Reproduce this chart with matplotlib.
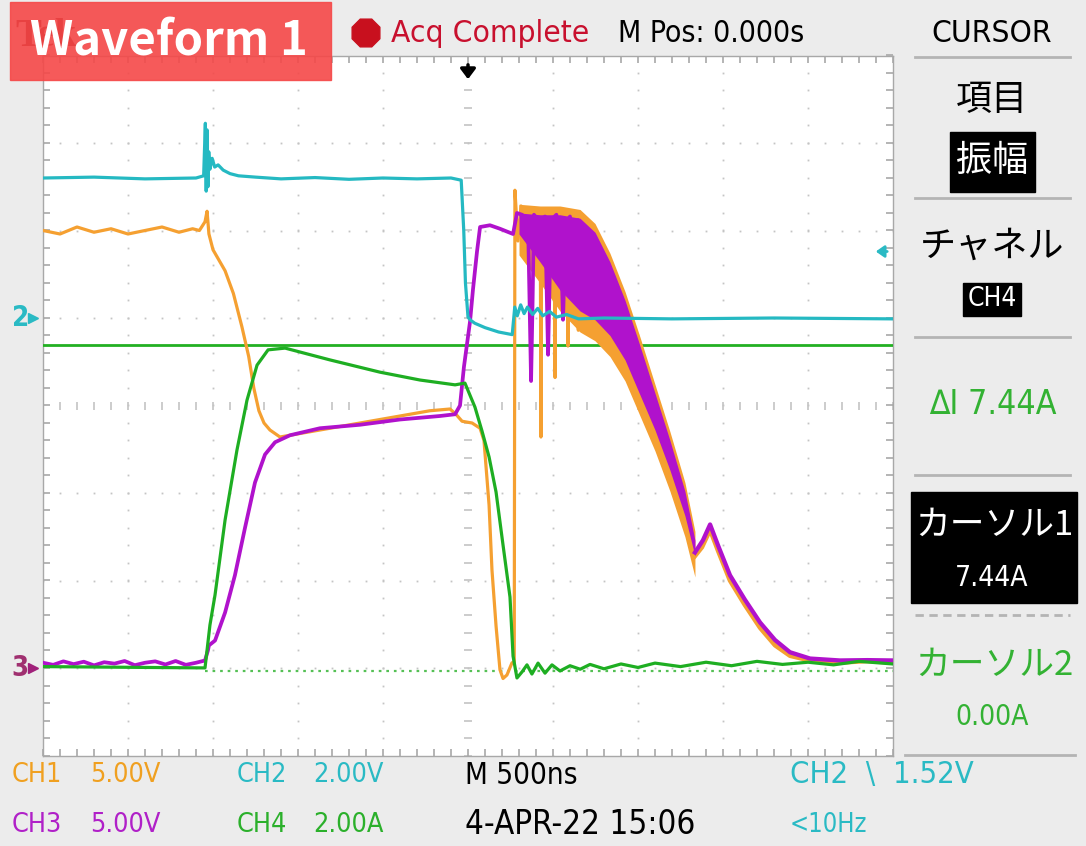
import matplotlib
matplotlib.use("Agg")
import matplotlib.pyplot as plt
from matplotlib import font_manager
from matplotlib.patches import Rectangle, RegularPolygon
import numpy as np

# ---------------- data ----------------
# time in ns (500 ns/div, 10 div), values in channel units
ch2_t = [-2500, -2200, -1900, -1600, -1555, -1545, -1540, -1535, -1530, -1525, -1518, -1505,
         -1490, -1470, -1440, -1400, -1350, -1250, -1100, -900, -700, -500, -300, -100, -40,
         -25, -15, 0, 15, 40, 100, 180, 260, 275, 290, 310, 330, 350, 380, 410, 440, 480, 520,
         580, 650, 800, 1200, 1800, 2500]
ch2_v = [3.20, 3.22, 3.18, 3.20, 3.25, 4.45, 2.90, 4.30, 3.00, 3.80, 3.40, 3.65,
         3.45, 3.50, 3.38, 3.30, 3.25, 3.22, 3.18, 3.21, 3.17, 3.20, 3.18, 3.20, 3.15,
         2.00, 0.80, 0.02, -0.05, -0.12, -0.22, -0.32, -0.38, 0.25, 0.05, 0.30, 0.10, 0.25, 0.08,
         0.22, 0.05, 0.15, 0.02, 0.08, -0.02, 0.0, -0.02, 0.0, -0.02]

ch1_t = [-2500, -2400, -2300, -2200, -2100, -2000, -1900, -1800, -1700, -1620, -1580,
         -1547, -1535, -1524, -1500, -1429, -1380, -1330, -1290, -1260, -1230, -1200, -1165, -1106,
         -1047, -871, -635, -400, -224, -106, -71, -35, 24, 71, 94, 124, 141, 165, 188, 206,
         229, 259, 272, 276, 294, 312, 330, 360, 400, 425, 429, 433, 470, 508, 512, 516, 560,
         584, 588, 592, 630, 645, 649, 653, 700, 715, 719, 724]
ch1_v = [25.0, 24.8, 25.2, 24.9, 25.1, 24.8, 25.0, 25.2, 24.9, 25.1, 25.0,
         25.5, 26.1, 24.8, 23.9, 22.7, 21.4, 19.5, 17.8, 16.0, 14.7, 14.0, 13.6, 13.2,
         13.3, 13.6, 14.0, 14.4, 14.7, 14.8, 14.5, 14.1, 14.0, 13.7, 13.0, 9.3, 5.6, 2.4, -0.1, -0.6,
         -0.4, 0.3, 0.3, 27.3, 24.4, 26.4, 25.4, 26.2, 25.5, 26.0, 13.2, 25.8, 25.5, 26.0, 16.6, 25.7, 25.8,
         25.6, 18.4, 25.5, 25.9, 25.7, 19.3, 25.3, 25.2, 25.0, 19.8, 24.8]
ch1_tail_t = [1335, 1376, 1424, 1471, 1541, 1629, 1718, 1806, 1894, 2012, 2188, 2350, 2500]
ch1_tail_v = [6.4, 6.9, 7.9, 6.7, 5.0, 3.6, 2.3, 1.3, 0.7, 0.43, 0.31, 0.4, 0.31]

ch3_t = [-2500, -2440, -2380, -2320, -2260, -2200, -2140, -2080, -2020, -1960, -1900, -1840,
         -1780, -1720, -1660, -1600, -1547, -1530, -1524, -1488, -1429, -1371, -1312, -1253,
         -1194, -1135, -1047, -871, -635, -400, -165, -76, -47, -24, 12, 29, 53, 71, 129, 188,
         265, 288, 318, 353, 362, 371, 380, 388, 420, 453, 462, 471, 480, 488, 520, 550, 559,
         568, 576, 600, 620, 629, 638, 647, 676, 690, 694, 700]
ch3_v = [0.30, 0.18, 0.38, 0.22, 0.36, 0.15, 0.33, 0.25, 0.40, 0.16, 0.30, 0.38,
         0.20, 0.40, 0.18, 0.30, 0.43, 1.0, 1.29, 1.57, 3.17, 5.3, 8.0, 10.6,
         12.2, 12.9, 13.3, 13.7, 13.9, 14.2, 14.4, 14.5, 15.0, 17.2, 19.8, 21.6, 23.8, 25.2, 25.3, 25.1,
         24.8, 26.0, 25.9, 25.6, 21.0, 16.4, 21.0, 25.9, 25.5, 25.8, 22.0, 17.9, 22.0, 25.6, 25.9, 23.0, 19.9,
         23.0, 25.5, 25.8, 23.5, 21.0, 23.5, 25.6, 25.2, 23.0, 21.5, 25.0]
ch3_tail_t = [1335, 1382, 1424, 1471, 1541, 1629, 1718, 1806, 1894, 2012, 2188, 2350, 2500]
ch3_tail_v = [6.6, 7.3, 8.2, 7.0, 5.3, 3.9, 2.6, 1.6, 0.9, 0.54, 0.43, 0.45, 0.43]

# envelope of the dense ringing band of CH3 (and CH1 around it)
band_t = [300, 424, 541, 659, 747, 835, 924, 1012, 1100, 1188, 1276, 1335]
band_hi = [26.0, 25.9, 25.9, 25.7, 24.9, 23.2, 21.0, 18.4, 15.7, 13.0, 10.1, 7.3]
band_lo = [24.8, 23.2, 21.6, 20.4, 19.9, 19.0, 17.6, 15.6, 13.6, 11.3, 8.7, 6.4]

ch4_t = [-2500, -1547, -1518, -1488, -1429, -1359, -1300, -1241, -1176, -1076, -988, -812,
         -518, -282, -76, -18, 41, 82, 124, 165, 206, 247, 265, 288, 318, 347, 376, 412, 453,
         494, 541, 600, 660, 718, 800, 900, 1000, 1100, 1250, 1400, 1550, 1700, 1850, 2000,
         2150, 2300, 2500]
ch4_v = [0.10, 0.07, 1.05, 1.74, 3.45, 5.05, 6.19, 6.99, 7.34, 7.38, 7.29, 7.11,
         6.83, 6.65, 6.54, 6.58, 6.03, 5.49, 4.89, 4.09, 2.88, 1.69, 0.34, -0.16, -0.02, 0.14,
         -0.07, 0.18, -0.05, 0.14, 0.0, 0.12, 0.04, 0.15, 0.05, 0.16, 0.08, 0.18, 0.10, 0.20,
         0.12, 0.22, 0.15, 0.20, 0.14, 0.22, 0.16]

cursor1_A = 7.44
cursor2_A = 0.00
trigger_level_V = 1.52

# channel settings: (units/div, ground position in divisions)
scale = {"CH1": 5.0, "CH2": 2.0, "CH3": 5.0, "CH4": 2.0}
ground = {"CH1": -3.0, "CH2": 1.0, "CH3": -3.0, "CH4": -3.034}

col = {"CH1": "#f5a031", "CH2": "#25b9c2", "CH3": "#b012cc", "CH4": "#1eae22"}
txtcol = {"CH1": "#f0a020", "CH2": "#2abac4", "CH3": "#b020c8", "CH4": "#2bb02b"}


def div(ch, v):
    return np.asarray(v, dtype=float) / scale[ch] + ground[ch]


# ---------------- fonts ----------------
NARROW, STRETCH, fs = "Liberation Sans", "normal", 0.85
for f in font_manager.fontManager.ttflist:
    nm = f.name
    if ("Mono" in nm) or ("Serif" in nm) or f.weight not in (400, "normal", "regular"):
        continue
    if ("Narrow" in nm) or ("Condensed" in nm) or (f.stretch in ("condensed", "semi-condensed")):
        NARROW, STRETCH, fs = nm, f.stretch, 0.9
        break
SCOPE = [NARROW, "Noto Sans CJK JP", "DejaVu Sans"]
JP = ["Noto Sans CJK JP", "DejaVu Sans"]

W, H = 1086, 846
fig = plt.figure(figsize=(W / 100, H / 100), dpi=100)
fig.patch.set_facecolor("#ececec")

# ---------------- scope screen ----------------
L, T, R, B = 43, 55.5, 893, 755.5
ax = fig.add_axes([L / W, 1 - B / H, (R - L) / W, (B - T) / H])
ax.set_facecolor("white")
ax.set_xlim(-2500, 2500)
ax.set_ylim(-4, 4)
ax.set_xticks([])
ax.set_yticks([])
for s in ax.spines.values():
    s.set_color("#a8a8a8")
    s.set_linewidth(1.0)

gc = "#c4c4c4"
ys = np.arange(-4, 4.001, 0.2)
xs = np.arange(-2500, 2500.1, 100)
for xv in [-2000, -1500, -1000, -500, 500, 1000, 1500, 2000]:
    ax.plot(np.full_like(ys, xv), ys, ls="none", marker="s", ms=1.3, color=gc, mew=0)
for yv in [-3, -2, -1, 1, 2, 3]:
    ax.plot(xs, np.full_like(xs, yv), ls="none", marker="s", ms=1.3, color=gc, mew=0)
ax.plot(np.zeros_like(ys), ys, ls="none", marker="_", ms=6, mew=1.2, color=gc)
ax.plot(xs, np.zeros_like(xs), ls="none", marker="|", ms=6, mew=1.2, color=gc)
ax.plot(xs, np.full_like(xs, 4), ls="none", marker=3, ms=5, mew=1.2, color="#a8a8a8", clip_on=False)
ax.plot(xs, np.full_like(xs, -4), ls="none", marker=2, ms=5, mew=1.2, color="#a8a8a8", clip_on=False)
ax.plot(np.full_like(ys, -2500), ys, ls="none", marker=1, ms=5, mew=1.2, color="#a8a8a8", clip_on=False)
ax.plot(np.full_like(ys, 2500), ys, ls="none", marker=0, ms=5, mew=1.2, color="#a8a8a8", clip_on=False)

# cursors
ax.axhline(div("CH4", cursor1_A), color="#22b022", lw=2.0, zorder=3)
ax.plot([-1550, 2500], [div("CH4", cursor2_A)] * 2, color="#55c055", lw=1.6,
        ls=(0, (1.2, 2.2)), zorder=3)

lw = 2.3
# CH1 (orange)
ax.fill_between(band_t, div("CH1", np.array(band_hi) + 0.5), div("CH1", np.array(band_lo) - 1.2),
                color=col["CH1"], lw=0, zorder=4)
ax.plot(ch1_t, div("CH1", ch1_v), color=col["CH1"], lw=lw, zorder=4)
ax.plot(ch1_tail_t, div("CH1", ch1_tail_v), color=col["CH1"], lw=lw + 1, zorder=4)
# CH3 (magenta)
ax.fill_between(band_t, div("CH3", band_hi), div("CH3", band_lo), color=col["CH3"], lw=0, zorder=5)
ax.plot(ch3_t, div("CH3", ch3_v), color=col["CH3"], lw=lw + 0.4, zorder=5)
ax.plot(ch3_tail_t, div("CH3", ch3_tail_v), color=col["CH3"], lw=lw + 0.8, zorder=5)
# CH4 (green)
ax.plot(ch4_t, div("CH4", ch4_v), color=col["CH4"], lw=lw, zorder=6)
# CH2 (cyan)
ax.plot(ch2_t, div("CH2", ch2_v), color=col["CH2"], lw=lw, zorder=7)

# ---------------- overlay in pixel coordinates ----------------
ov = fig.add_axes([0, 0, 1, 1], zorder=10)
ov.set_xlim(0, W)
ov.set_ylim(H, 0)
ov.axis("off")
ov.patch.set_alpha(0)


def txt(x, y, s, size, color="black", ha="left", family=None, weight="normal", **kw):
    if family is None:
        family = SCOPE
        kw.setdefault("fontstretch", STRETCH)
    ov.text(x, y, s, fontsize=size, color=color, ha=ha, va="center", family=family,
            fontweight=weight, **kw)


def ypix(d):
    return T + (4 - d) / 8 * (B - T)


# header
ov.add_patch(RegularPolygon((366, 33), 8, radius=15, orientation=np.pi / 8, color="#c8101e"))
txt(391, 33, "Acq Complete", 25.2 * fs, color="#c8102e")
txt(618, 33, "M Pos: 0.000s", 24 * fs)
txt(992, 33, "CURSOR", 24 * fs * 1.05, ha="center")
# trigger position arrow
ov.annotate("", xy=(468, 82), xytext=(468, 62),
            arrowprops=dict(arrowstyle="-|>,head_width=0.45,head_length=0.6", color="black", lw=2.5))

# channel ground markers
txt(12, ypix(ground["CH2"]), "2", 22 * fs, color=txtcol["CH2"], weight="bold")
ov.plot([33], [ypix(ground["CH2"])], marker=">", ms=7, color=txtcol["CH2"])
txt(11, ypix(ground["CH3"]), "3", 22 * fs, color="#a03070", weight="bold")
ov.plot([33], [ypix(ground["CH3"])], marker=">", ms=7, color="#a0207a")
# trigger level marker on the right edge
ytl = ypix(ground["CH2"] + trigger_level_V / scale["CH2"])
ov.annotate("", xy=(873, ytl), xytext=(890, ytl),
            arrowprops=dict(arrowstyle="-|>,head_width=0.35,head_length=0.5", color=txtcol["CH2"], lw=2))

# right-hand menu
sep = "#b4b4b4"
for yy in [57, 198, 337, 475]:
    ov.plot([915, 1070], [yy, yy], color=sep, lw=2)
ov.plot([915, 1070], [615, 615], color=sep, lw=2, ls=(0, (3, 2)))
ov.plot([905, 1075], [755, 755], color=sep, lw=2)

txt(992, 100, "項目", 26, ha="center", family=JP)
ov.add_patch(Rectangle((950, 132), 85, 60, color="black"))
txt(992, 161, "振幅", 26, color="white", ha="center", family=JP)
txt(992, 247, "チャネル", 26, ha="center", family=JP)
ov.add_patch(Rectangle((963, 283), 58, 33, color="black"))
txt(992, 299, "CH4", 21 * fs, color="white", ha="center")
txt(993, 405, "\u2206I 7.44A", 27 * fs, color="#33b233", ha="center")
ov.add_patch(Rectangle((911, 492), 166, 111, color="black"))
txt(994, 525, "カーソル1", 25, color="white", ha="center", family=JP)
txt(992, 578, "7.44A", 22.5 * fs, color="white", ha="center")
txt(994, 665, "カーソル2", 25, color="#33b233", ha="center", family=JP)
txt(992, 717, "0.00A", 22.5 * fs, color="#33b233", ha="center")

# bottom status lines
SB = 21.5 * fs
txt(12, 775, "CH1", SB, color=txtcol["CH1"])
txt(90, 775, "5.00V", SB, color=txtcol["CH1"])
txt(237, 775, "CH2", SB, color=txtcol["CH2"])
txt(313, 775, "2.00V", SB, color=txtcol["CH2"])
txt(465, 775, "M 500ns", SB * 1.1)
txt(790, 775, "CH2  \\  1.52V", SB * 1.15, color=txtcol["CH2"])
txt(12, 825, "CH3", SB, color=txtcol["CH3"])
txt(90, 825, "5.00V", SB, color=txtcol["CH3"])
txt(237, 825, "CH4", SB, color=txtcol["CH4"])
txt(313, 825, "2.00A", SB, color=txtcol["CH4"])
txt(465, 825, "4-APR-22 15:06", 26.4 * fs)
txt(790, 825, "<10Hz", SB * 0.95, color=txtcol["CH2"])

# header text hidden behind the label
txt(15, 36, "Tek", 28, color="#7a0a0a", family=["Liberation Serif", "DejaVu Serif"], weight="bold")

# "Waveform 1" label
ov.add_patch(Rectangle((10, 2), 321, 78, color="#f54848", alpha=0.9, zorder=20))
ov.text(30, 41, "Waveform 1", fontsize=34, color="white", fontweight="bold", ha="left", va="center",
        family=["Noto Sans CJK JP", "DejaVu Sans"], zorder=21)

fig.savefig("out.png", dpi=100, facecolor=fig.get_facecolor())
